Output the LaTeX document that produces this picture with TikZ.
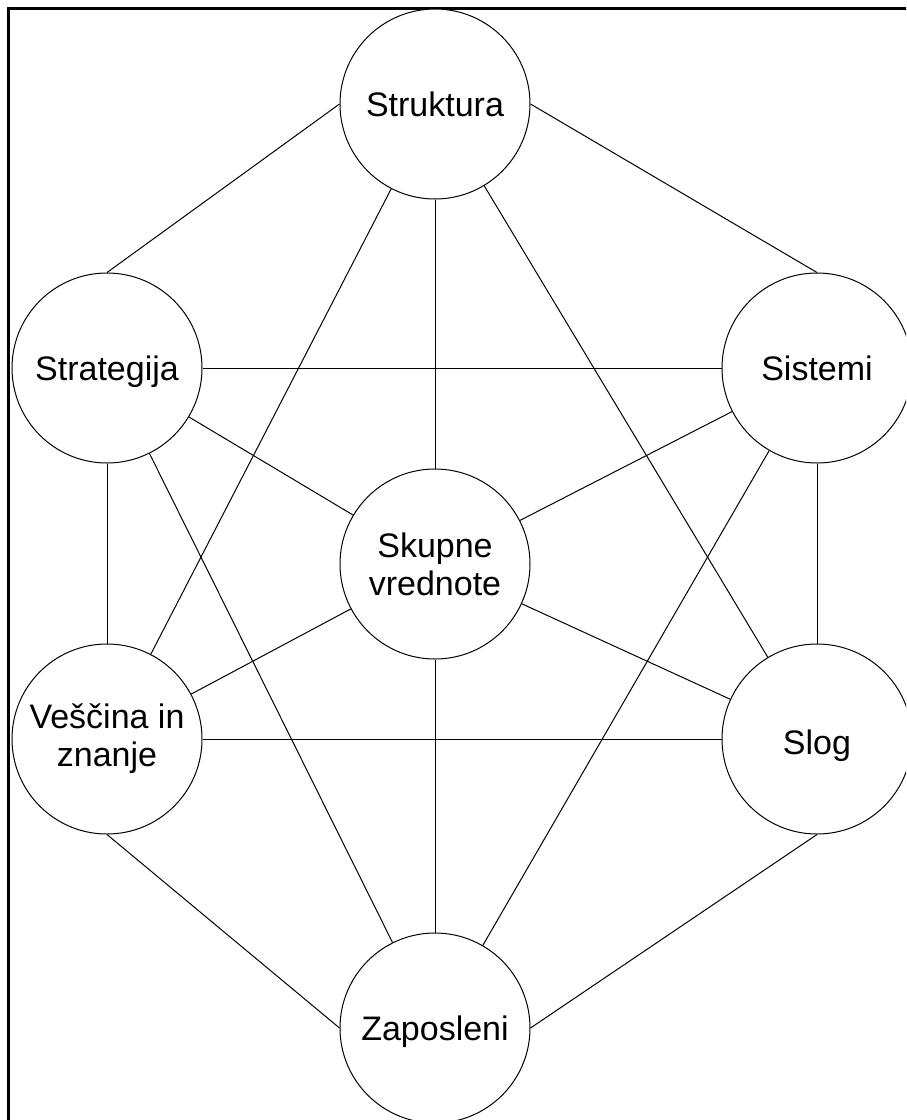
\documentclass[tikz,border=0pt]{standalone}
\usepackage{fontspec}
\setmainfont{Liberation Sans}
\begin{document}
\begin{tikzpicture}[x=1pt,y=-1pt,
  bubble/.style={circle,draw=black,line width=1pt,fill=white,minimum size=190pt,inner sep=0pt,align=center,font=\fontsize{34}{38}\selectfont},
  oneline/.style={text height=24.5pt,text depth=0pt},
  lowline/.style={text height=30.5pt,text depth=0pt},
  link/.style={draw=black,line width=1pt}]
\useasboundingbox (0,0) rectangle (906,1120);
\clip (0,0) rectangle (906,1120);
\fill[white] (0,0) rectangle (906,1120);
\draw[line width=3pt] (8.5,1130) -- (8.5,8.5) -- (920,8.5);
\node[bubble,oneline] (str) at (435,104) {Struktura};
\node[bubble,oneline] (stg) at (107,368) {Strategija};
\node[bubble,oneline] (sis) at (817,368) {Sistemi};
\node[bubble] (sku) at (435,564) {Skupne\\vrednote};
\node[bubble] (ves) at (107,739) {Veščina in\\znanje};
\node[bubble,lowline] (slo) at (817,739) {Slog};
\node[bubble,oneline] (zap) at (435,1028) {Zaposleni};
\draw[link] (str.west) -- (stg.north);
\draw[link] (str.east) -- (sis.north);
\draw[link] (str) -- (sku);
\draw[link] (str) -- (ves);
\draw[link] (str) -- (slo);
\draw[link] (stg) -- (sis);
\draw[link] (stg) -- (sku);
\draw[link] (stg) -- (ves);
\draw[link] (stg) -- (zap);
\draw[link] (sis) -- (sku);
\draw[link] (sis) -- (slo);
\draw[link] (sis) -- (zap);
\draw[link] (sku) -- (ves);
\draw[link] (sku) -- (slo);
\draw[link] (sku) -- (zap);
\draw[link] (ves) -- (slo);
\draw[link] (ves.south) -- (zap.west);
\draw[link] (slo.south) -- (zap.east);
\end{tikzpicture}
\end{document}
